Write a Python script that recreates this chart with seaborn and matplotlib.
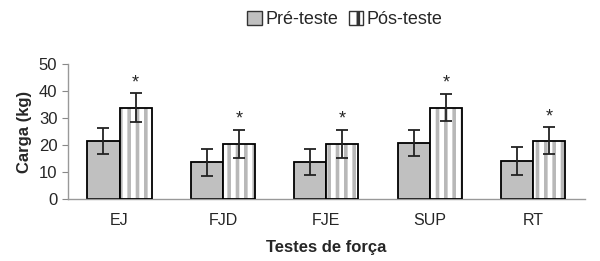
import numpy as np
import pandas as pd
import matplotlib
matplotlib.use('Agg')
import matplotlib.pyplot as plt
import seaborn as sns
from matplotlib.patches import Patch
from matplotlib.ticker import FixedLocator

categories = ['EJ', 'FJD', 'FJE', 'SUP', 'RT']
pre = [21.6, 13.6, 13.6, 20.6, 14.1]
pos = [33.8, 20.4, 20.5, 33.8, 21.6]
pre_err = [4.8, 4.9, 4.8, 4.8, 5.1]
pos_err = [5.3, 5.2, 5.2, 5.1, 4.9]
groups = ['Pré-teste', 'Pós-teste']

sns.set_style('white')
plt.rcParams['font.family'] = ['Liberation Sans', 'DejaVu Sans']
plt.rcParams['hatch.linewidth'] = 2.6

df = pd.DataFrame({
    'Teste': categories * 2,
    'Carga': pre + pos,
    'Grupo': [groups[0]] * 5 + [groups[1]] * 5,
})

fig = plt.figure(figsize=(6, 2.61), dpi=100)
ax = fig.add_axes([0.113, 0.2375, 0.862, 0.5175])

sns.barplot(data=df, x='Teste', y='Carga', hue='Grupo', order=categories,
            hue_order=groups, palette=['#c0c0c0', 'white'], width=0.62,
            errorbar=None, legend=False, ax=ax, edgecolor='black', linewidth=1.3)

bars = ax.patches[:10]
errs = pre_err + pos_err
for i, b in enumerate(bars):
    xc = b.get_x() + b.get_width() / 2
    h = b.get_height()
    if i >= 5:
        b.set_hatch('||')
        b.set_edgecolor('#b8b8b8')
        b.set_linewidth(0)
        ax.bar(xc, h, width=b.get_width(), fill=False, edgecolor='black',
               linewidth=1.3, zorder=3)
        ax.text(xc, h + errs[i] + 0.8, '*', ha='center', va='bottom', fontsize=13)
    ax.errorbar(xc, h, yerr=errs[i], fmt='none', ecolor='#222222',
                elinewidth=1.3, capsize=4.5, capthick=1.3, zorder=4)

ax.set_ylim(0, 50)
ax.set_xlim(-0.5, 4.5)
ax.set_yticks([0, 10, 20, 30, 40, 50])
ax.xaxis.set_minor_locator(FixedLocator([0.5, 1.5, 2.5, 3.5]))
ax.tick_params(axis='x', which='major', length=0, pad=10, labelsize=11.5)
ax.tick_params(axis='x', which='minor', length=3, color='#888888', direction='out')
ax.tick_params(axis='y', length=4, color='#888888', direction='out', labelsize=12, left=True)

for s in ['top', 'right']:
    ax.spines[s].set_visible(False)
for s in ['left', 'bottom']:
    ax.spines[s].set_color('#999999')
    ax.spines[s].set_linewidth(1)

ax.set_ylabel('Carga (kg)', fontsize=12, fontweight='bold', labelpad=5)
ax.set_xlabel('Testes de força', fontsize=12, fontweight='bold', labelpad=9)

handles = [Patch(facecolor='#c0c0c0', edgecolor='#333333', label=groups[0]),
           Patch(facecolor='white', edgecolor='#333333', hatch='|', label=groups[1])]
fig.legend(handles=handles, loc='upper center', bbox_to_anchor=(0.575, 1.02), ncol=2,
           frameon=False, fontsize=13, handlelength=0.8, handleheight=0.8,
           handletextpad=0.2, columnspacing=0.6)

fig.savefig('out.png', dpi=100)
